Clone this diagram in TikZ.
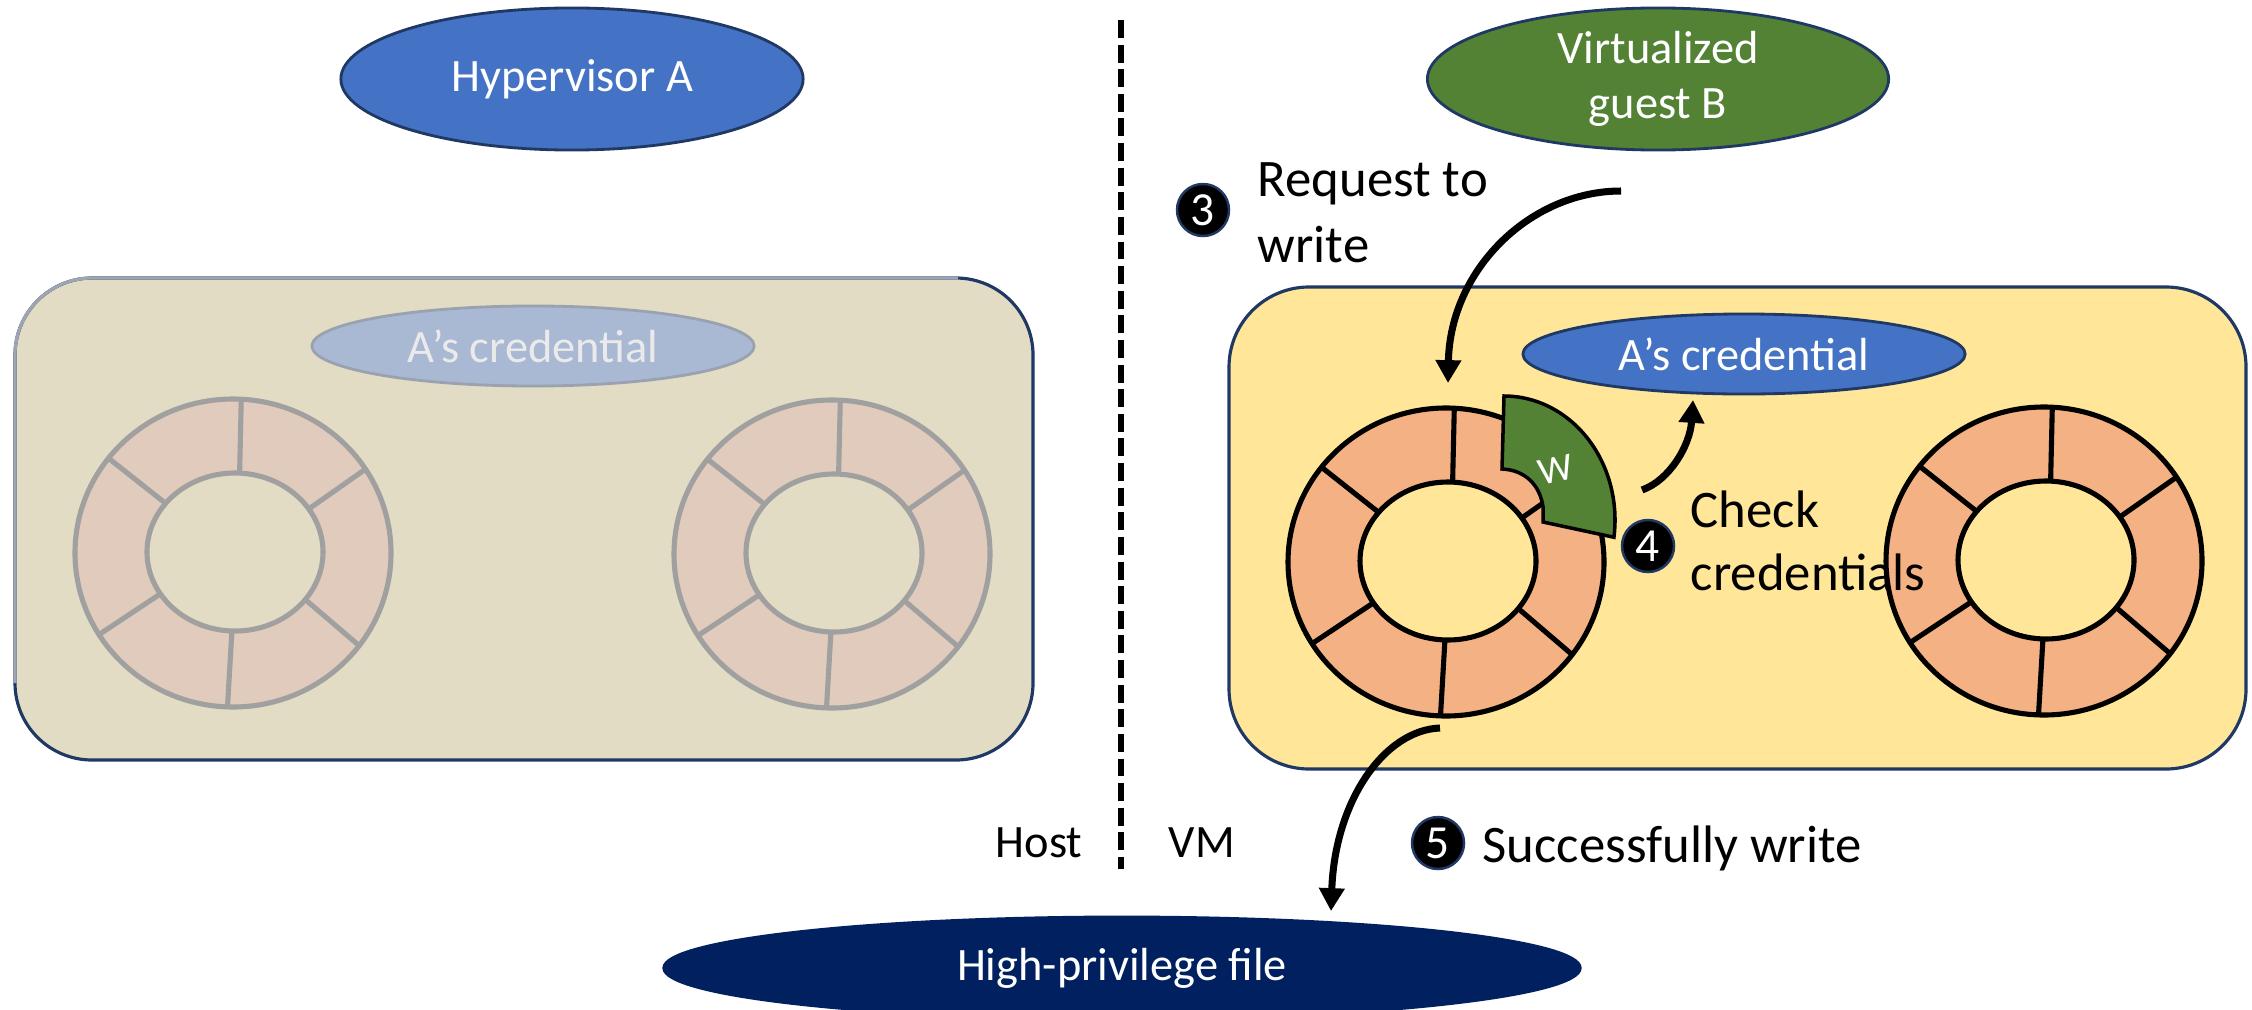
\documentclass[tikz,border=0pt]{standalone}
\usepackage{fontspec}
\setmainfont{Carlito}
\usetikzlibrary{arrows.meta,shapes.geometric}

\definecolor{navyline}{HTML}{1F3864}
\definecolor{bluefill}{HTML}{4472C4}
\definecolor{greenfill}{HTML}{548235}
\definecolor{darknavy}{HTML}{002060}
\definecolor{vmyellow}{HTML}{FFE699}
\definecolor{hostbeige}{HTML}{E2DCC4}
\definecolor{tyreorange}{HTML}{F4B183}
\definecolor{tyrefaded}{HTML}{E0CBBC}
\definecolor{tyregrey}{HTML}{A0A0A0}
\definecolor{credfaded}{HTML}{A9B8D3}
\definecolor{credfadedline}{HTML}{9AA2B0}
\definecolor{credfadedtext}{HTML}{EAEAEA}
\definecolor{hostedge}{HTML}{9EA4B2}

% segmented ring: centre x, centre y, line colour, fill colour
\newcommand{\ringwheel}[4]{%
  \fill[#4, even odd rule] (#1,#2) ellipse[x radius=158, y radius=154]
                           (#1+2,#2-1) ellipse[x radius=88, y radius=79];
  \draw[#3, ringline] (#1,#2) ellipse[x radius=158, y radius=154];
  \draw[#3, ringline] (#1+2,#2-1) ellipse[x radius=88, y radius=79];
  \foreach \t in {33,87,142,212,268,323}
    \draw[#3, ringline] ({#1+158*cos(\t)},{#2-154*sin(\t)}) --
                        ({#1+2+88*cos(\t)},{#2-1-79*sin(\t)});
}

\begin{document}
\begin{tikzpicture}[x=0.01cm, y=-0.01cm,
  ringline/.style={line width=1.45pt},
  bubble/.style={ellipse, inner sep=0pt, draw=navyline, line width=0.8pt,
    text=white, align=center, font=\fontsize{13.2}{15.6}\selectfont},
  badge/.style={circle, fill=black, draw=navyline, line width=0.7pt,
    minimum size=0.52cm, inner sep=0pt, text=white,
    font=\fontsize{13.5}{14}\selectfont},
  note/.style={inner sep=0pt, anchor=base west, align=left, text=black},
  flow/.style={line width=2pt, -{Triangle[length=6.5pt,width=7pt]}}]

\clip (0,0) rectangle (2252,1009);

% host side box
\fill[hostbeige, rounded corners=0.77cm] (15,278) rectangle (1033,760);
\draw[navyline, line width=0.9pt, rounded corners=0.77cm] (15,278) rectangle (1033,760);
\draw[hostedge, line width=0.9pt, rounded corners=0.77cm] (15,683) -- (15,278) -- (958,278);

% VM side box
\draw[navyline, fill=vmyellow, line width=0.9pt, rounded corners=0.8cm] (1229,287) rectangle (2246,769);

% rings
\ringwheel{233}{553}{tyregrey}{tyrefaded}
\ringwheel{832}{554}{tyregrey}{tyrefaded}
\ringwheel{1446}{562}{black}{tyreorange}
\ringwheel{2044}{561}{black}{tyreorange}

% written sector
\draw[fill=greenfill, draw=black, line width=1pt]
  (1504,396) arc[start angle=-90, end angle=8, x radius=111, y radius=124]
  -- (1543,522) -- (1543,507) .. controls (1540,485) and (1525,470) .. (1502,469) -- cycle;
\node[text=white, rotate=12, font=\fontsize{11}{12}\selectfont] (wmark) at (1556,470) {W};

% ellipses
\node[bubble, fill=bluefill, minimum width=4.62cm, minimum height=1.42cm] (hyperA) at (572,79) {Hypervisor A};
\node[bubble, fill=greenfill, minimum width=4.61cm, minimum height=1.42cm] (guestB) at (1658,79) {Virtualized\\guest B};
\node[bubble, fill=credfaded, draw=credfadedline, text=credfadedtext, minimum width=4.42cm, minimum height=0.80cm] (credL) at (533,346) {A’s credential};
\node[bubble, fill=bluefill, minimum width=4.42cm, minimum height=0.80cm] (credR) at (1744,354) {A’s credential};
\node[bubble, fill=darknavy, draw=darknavy, minimum width=9.16cm, minimum height=1.02cm] (hpfile) at (1122,968) {High-privilege file};

% host / VM divider
\coordinate (divtop) at (1121,20);
\coordinate (divbot) at (1121,869);
\draw[line width=1.5pt, dash pattern=on 5.1pt off 1.9pt] (divtop) -- (divbot);
\node[note, font=\fontsize{13.2}{15.6}\selectfont] (host) at (995,857) {Host};
\node[note, font=\fontsize{13.2}{15.6}\selectfont] (vm) at (1168,857) {VM};

% step badges and captions (two-line captions sit on their last baseline)
\node[badge] (s3) at (1203,210) {3};
\node[badge] (s4) at (1648,546) {4};
\node[badge] (s5) at (1438,843) {5};
\node[note, font=\fontsize{15}{18.5}\selectfont] (t3) at (1257,262) {Request to\\write};
\node[note, font=\fontsize{15}{17.9}\selectfont] (t4) at (1690,590) {Check\\credentials};
\node[note, font=\fontsize{15}{18}\selectfont] (t5) at (1482,862) {Successfully write};

% arrows
\coordinate (a3s) at (1621,191);
\coordinate (a3e) at (1448,383);
\coordinate (a4s) at (1642,490);
\coordinate (a4e) at (1693,400);
\coordinate (a5s) at (1440,728);
\coordinate (a5e) at (1331,911);
\draw[flow] (a3s) .. controls (1530,191) and (1450,270) .. (a3e);
\draw[flow] (a4s) .. controls (1670,480) and (1690,445) .. (a4e);
\draw[flow] (a5s) .. controls (1385,730) and (1335,800) .. (a5e);

\end{tikzpicture}
\end{document}
